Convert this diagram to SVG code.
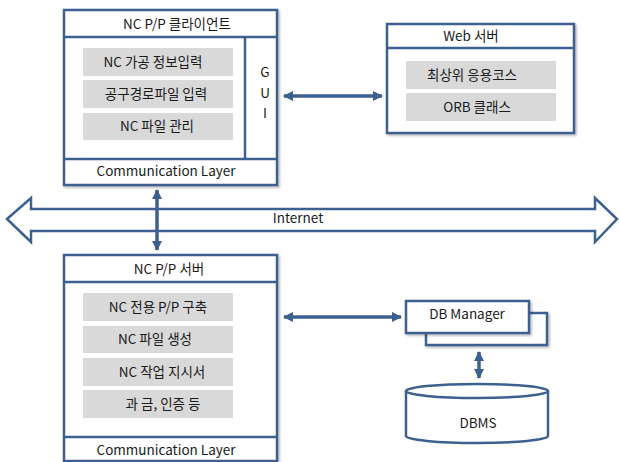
<svg xmlns="http://www.w3.org/2000/svg" width="619" height="462" viewBox="0 0 619 462">
<defs>
<filter id="sh" x="-10%" y="-10%" width="130%" height="130%">
<feDropShadow dx="1.5" dy="1.5" stdDeviation="1.2" flood-color="#000" flood-opacity="0.3"/>
</filter>
<marker id="ah" viewBox="0 0 10 10" refX="9" refY="5" markerWidth="3" markerHeight="3" orient="auto-start-reverse" markerUnits="strokeWidth">
<path d="M0,0 L10,5 L0,10 Z" fill="#3C6190"/>
</marker>
</defs>
<style>
.box{fill:#fff;stroke:#3C6190;stroke-width:2.5}
.ln{fill:none;stroke:#3C6190;stroke-width:2.5}
.g{fill:#D9D9D9}
.t{font-family:"Malgun Gothic","Noto Sans CJK KR","Noto Sans",sans-serif;font-size:13.5px;fill:#1a1a1a;text-anchor:middle}
.c{fill:none;stroke:#3C6190;stroke-width:3.5;marker-start:url(#ah);marker-end:url(#ah)}
</style>
<rect width="619" height="462" fill="#fff"/>

<g id="internet">
<polygon points="7,219 31,198 31,209 595,209 595,198 617,219 595,242 595,231 31,231 31,242" fill="#fff" stroke="#3C6190" stroke-width="2.5" stroke-linejoin="miter"/>
<text class="t" x="298" y="223">Internet</text>
</g>

<g id="client">
<rect class="box" x="64" y="10" width="213" height="175" filter="url(#sh)"/>
<line class="ln" x1="64" y1="37" x2="277" y2="37"/>
<line class="ln" x1="64" y1="159" x2="277" y2="159"/>
<line class="ln" x1="245" y1="37" x2="245" y2="159"/>
<text class="t" x="177" y="29">NC P/P 클라이언트</text>
<rect class="g" x="83" y="48" width="150" height="28"/>
<rect class="g" x="83" y="80" width="150" height="28"/>
<rect class="g" x="83" y="113" width="150" height="27"/>
<text class="t" x="153" y="67">NC 가공 정보입력</text>
<text class="t" x="156" y="99">공구경로파일 입력</text>
<text class="t" x="157" y="131">NC 파일 관리</text>
<text class="t" x="265" y="77">G</text>
<text class="t" x="265" y="98">U</text>
<text class="t" x="265" y="118">I</text>
<text class="t" x="166" y="176">Communication Layer</text>
</g>

<g id="web">
<rect class="box" x="387" y="24" width="187" height="109" filter="url(#sh)"/>
<line class="ln" x1="387" y1="48" x2="574" y2="48"/>
<text class="t" x="471" y="41">Web 서버</text>
<rect class="g" x="406" y="61" width="150" height="28"/>
<rect class="g" x="406" y="93" width="150" height="28"/>
<text class="t" x="472" y="80">최상위 응용코스</text>
<text class="t" x="477" y="112">ORB 클래스</text>
</g>

<g id="server">
<rect class="box" x="64" y="255" width="213" height="206" filter="url(#sh)"/>
<line class="ln" x1="64" y1="282" x2="277" y2="282"/>
<line class="ln" x1="64" y1="437" x2="277" y2="437"/>
<text class="t" x="169" y="274">NC P/P 서버</text>
<rect class="g" x="83" y="293" width="150" height="28"/>
<rect class="g" x="83" y="326" width="150" height="27"/>
<rect class="g" x="83" y="358" width="150" height="28"/>
<rect class="g" x="83" y="390" width="150" height="28"/>
<text class="t" x="158" y="312">NC 전용 P/P 구축</text>
<text class="t" x="155" y="344">NC 파일 생성</text>
<text class="t" x="162" y="377">NC 작업 지시서</text>
<text class="t" x="163" y="409">과 금, 인증 등</text>
<text class="t" x="166" y="455">Communication Layer</text>
</g>

<g id="dbmanager">
<rect class="box" x="426" y="313" width="121" height="32" filter="url(#sh)"/>
<rect class="box" x="406" y="301" width="123" height="32" filter="url(#sh)"/>
<text class="t" x="467" y="319">DB Manager</text>
</g>

<g id="dbms">
<path d="M406,391 L406,436 A71,7 0 0 0 548,436 L548,391" fill="#fff" stroke="#3C6190" stroke-width="2.5"/>
<ellipse cx="477" cy="391" rx="71" ry="7" fill="#fff" stroke="#3C6190" stroke-width="2.5"/>
<text class="t" x="478" y="428">DBMS</text>
</g>

<g id="connectors">
<line class="c" x1="157" y1="190" x2="157" y2="250"/>
<line class="c" x1="284" y1="96" x2="382" y2="96"/>
<line class="c" x1="284" y1="317" x2="401" y2="317"/>
<line class="c" x1="479" y1="352" x2="479" y2="378"/>
</g>
</svg>
